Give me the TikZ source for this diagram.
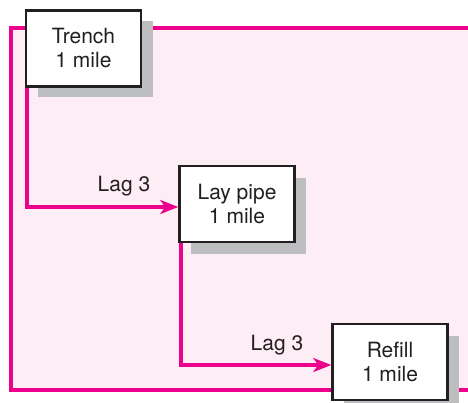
\documentclass[tikz,border=0pt]{standalone}
\usepackage{fontspec}
\setmainfont{TeX Gyre Heros}
\usetikzlibrary{arrows.meta}
\definecolor{mag}{HTML}{EC008C}
\definecolor{pinkfill}{HTML}{FDEDF4}
\definecolor{shadowgrey}{HTML}{BCBEC0}
\definecolor{ink}{HTML}{231F20}
\begin{document}
\begin{tikzpicture}[x=1pt,y=-1pt,
  taskbox/.style={draw=ink,line width=2.5pt,fill=white,minimum width=115pt,minimum height=76pt,inner sep=0pt,align=center,text=ink,font=\fontsize{21}{24}\selectfont},
  shadowbox/.style={fill=shadowgrey,draw=none,minimum width=115pt,minimum height=76pt,inner sep=0pt},
  link/.style={draw=mag,line width=3.5pt,-{Stealth[length=18pt,width=14pt,inset=5pt]}},
  lagtext/.style={text=ink,font=\fontsize{21}{24}\selectfont,inner sep=0pt}]
\useasboundingbox (0,0) rectangle (468,403);
% frame
\path[fill=pinkfill] (11,28) rectangle (470,390);
\draw[mag,line width=3.5pt] (470,28) -- (11,28) -- (11,390) -- (470,390);
% shadows
\node[shadowbox] (s1) at (95.5,59) {};
\node[shadowbox] (s2) at (248.5,216) {};
\node[shadowbox] (s3) at (401.5,374) {};
% boxes
\node[taskbox] (t) at (83.5,48.5) {Trench\\1 mile};
\node[taskbox] (l) at (237,204) {Lay pipe\\1 mile};
\node[taskbox] (r) at (390,362) {Refill\\1 mile};
% connectors
\coordinate (c1) at (27,207);
\coordinate (c2) at (181,365);
\draw[link] (t.south west -| c1) -- (c1) -- (c1 -| l.west);
\draw[link] (l.south west -| c2) -- (c2) -- (c2 -| r.west);
\node[lagtext,anchor=base] (lg1) at (124,192) {Lag 3};
\node[lagtext,anchor=base] (lg2) at (277,350) {Lag 3};
\end{tikzpicture}
\end{document}
